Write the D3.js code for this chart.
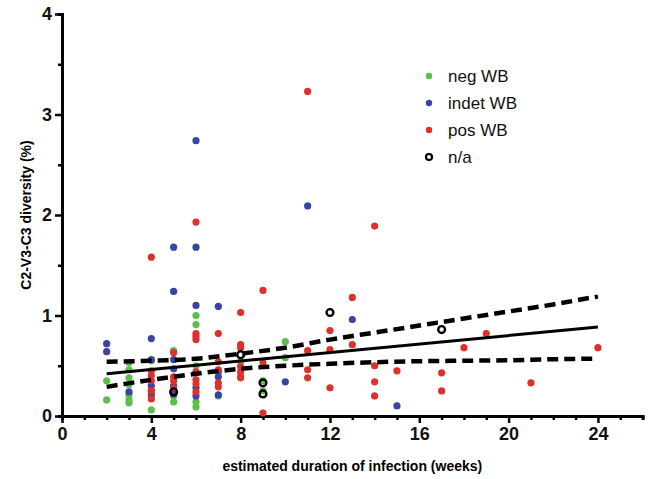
<!DOCTYPE html>
<html>
<head>
<meta charset="utf-8">
<script src="https://cdn.jsdelivr.net/npm/d3@7"></script>
<style>
  body { margin: 0; background: #fff; }
  text { font-family: "Liberation Sans", Arial, sans-serif; }
</style>
</head>
<body>
<div id="chart"></div>
<script>
// Diversity vs estimated duration of infection

const xTicks = [0, 4, 8, 12, 16, 20, 24];
const yTicks = [0, 1, 2, 3, 4];

// [week, diversity]
const negWB = [
  [2, 0.35], [2, 0.16],
  [3, 0.53], [3, 0.46], [3, 0.38], [3, 0.31], [3, 0.21], [3, 0.16], [3, 0.13],
  [4, 0.06], [4, 0.55],
  [5, 0.65], [5, 0.20], [5, 0.14],
  [6, 1.00], [6, 0.91], [6, 0.50], [6, 0.14], [6, 0.09],
  [7, 0.20],
  [8, 0.54], [8, 0.40],
  [9, 0.35], [9, 0.25],
  [10, 0.74], [10, 0.58]
];
const indetWB = [
  [2, 0.72], [2, 0.64],
  [3, 0.24],
  [4, 0.77], [4, 0.56], [4, 0.30], [4, 0.25], [4, 0.21],
  [5, 1.68], [5, 1.24], [5, 0.56], [5, 0.47], [5, 0.30], [5, 0.22],
  [6, 2.74], [6, 1.68], [6, 1.10], [6, 0.43], [6, 0.28], [6, 0.20],
  [7, 1.09], [7, 0.44], [7, 0.39], [7, 0.21],
  [10, 0.34],
  [11, 2.09],
  [13, 0.96],
  [15, 0.10]
];
const posWB = [
  [4, 1.58], [4, 0.45], [4, 0.40], [4, 0.35], [4, 0.25], [4, 0.17],
  [5, 0.63], [5, 0.39], [5, 0.35], [5, 0.28],
  [6, 1.93], [6, 0.82], [6, 0.79], [6, 0.76], [6, 0.44], [6, 0.36], [6, 0.32], [6, 0.24],
  [7, 0.82], [7, 0.54], [7, 0.46], [7, 0.33], [7, 0.29],
  [8, 1.03], [8, 0.71], [8, 0.68], [8, 0.49], [8, 0.44], [8, 0.38],
  [9, 1.25], [9, 0.53], [9, 0.03],
  [11, 3.23], [11, 0.65], [11, 0.46], [11, 0.38],
  [12, 0.85], [12, 0.66], [12, 0.28],
  [13, 1.18], [13, 0.71],
  [14, 1.89], [14, 0.50], [14, 0.34], [14, 0.20],
  [15, 0.45],
  [17, 0.43], [17, 0.25],
  [18, 0.68],
  [19, 0.82],
  [21, 0.33],
  [24, 0.68]
];
const naWB = [
  [5, 0.24], [8, 0.61], [9, 0.33], [9, 0.22], [12, 1.03], [17, 0.86]
];

// regression line and 95% confidence band
const fitX = [2, 24];
const fitY = [0.42, 0.885];
const bandX = [2, 4, 6, 8, 10, 12, 14, 16, 18, 20, 22, 24];
const bandUpper = [0.54, 0.55, 0.57, 0.62, 0.68, 0.76, 0.83, 0.90, 0.97, 1.04, 1.11, 1.19];
const bandLower = [0.29, 0.36, 0.42, 0.47, 0.50, 0.52, 0.535, 0.545, 0.55, 0.555, 0.565, 0.57];

const legendItems = ["neg WB", "indet WB", "pos WB", "n/a"];
const colors = { "neg WB": "#5cbf4c", "indet WB": "#3a43a6", "pos WB": "#e0302b" };

const width = 654, height = 479;
const svg = d3.select("#chart").append("svg")
  .attr("width", width).attr("height", height);

const x = d3.scaleLinear().domain([0, 26]).range([62, 642.6]);
const y = d3.scaleLinear().domain([0, 4]).range([416, 14]);

// ── Axes ──────────────────────────────────────────────
const xAxis = svg.append("g").attr("transform", `translate(0, ${y(0)})`)
  .call(d3.axisBottom(x).tickValues(xTicks).tickSize(7).tickSizeOuter(0).tickPadding(3)
    .tickFormat(d3.format("d")));
xAxis.append("g")
  .call(d3.axisBottom(x).tickValues(d3.range(1, 27).filter(d => d % 4 !== 0)).tickSize(4).tickFormat(""));

const yAxis = svg.append("g").attr("transform", `translate(${x(0)}, 0)`)
  .call(d3.axisLeft(y).tickValues(yTicks).tickSize(7).tickSizeOuter(0).tickPadding(3)
    .tickFormat(d3.format("d")));
yAxis.append("g")
  .call(d3.axisLeft(y).tickValues([0.5, 1.5, 2.5, 3.5]).tickSize(4).tickFormat(""));

svg.selectAll(".domain").attr("stroke", "#000").attr("stroke-width", 3);
svg.selectAll(".tick line").attr("stroke", "#000").attr("stroke-width", 2.5);
svg.selectAll(".tick text")
  .style("font-size", "18px").style("font-weight", "bold").attr("fill", "#111");
xAxis.selectAll(".tick text").attr("dy", "0.8em");

svg.append("text")
  .attr("x", x(13)).attr("y", 471)
  .attr("text-anchor", "middle")
  .style("font-size", "14px").style("font-weight", "bold")
  .text("estimated duration of infection (weeks)");

svg.append("text")
  .attr("transform", `translate(31, ${y(2)}) rotate(-90)`)
  .attr("text-anchor", "middle")
  .style("font-size", "14px").style("font-weight", "bold")
  .text("C2-V3-C3 diversity (%)");

// ── Points ────────────────────────────────────────────
const r = 3.6;
[["neg WB", negWB], ["indet WB", indetWB], ["pos WB", posWB]].forEach(([k, pts]) => {
  svg.append("g").selectAll("circle").data(pts).join("circle")
    .attr("cx", d => x(d[0])).attr("cy", d => y(d[1]))
    .attr("r", r).attr("fill", colors[k]);
});
svg.append("g").selectAll("circle").data(naWB).join("circle")
  .attr("cx", d => x(d[0])).attr("cy", d => y(d[1]))
  .attr("r", 3.4).attr("fill", "none").attr("stroke", "#000").attr("stroke-width", 2.4);

// ── Regression + confidence band ─────────────────────
const line = d3.line().x(d => x(d[0])).y(d => y(d[1])).curve(d3.curveMonotoneX);

svg.append("path")
  .datum(fitX.map((d, i) => [d, fitY[i]]))
  .attr("d", line).attr("fill", "none")
  .attr("stroke", "#000").attr("stroke-width", 3);

[bandUpper, bandLower].forEach(b => {
  svg.append("path")
    .datum(bandX.map((d, i) => [d, b[i]]))
    .attr("d", line).attr("fill", "none")
    .attr("stroke", "#000").attr("stroke-width", 4.5)
    .attr("stroke-dasharray", "11,6");
});

// ── Legend ────────────────────────────────────────────
const legend = svg.append("g").attr("transform", "translate(429, 76)");
legendItems.forEach((k, i) => {
  const row = legend.append("g").attr("transform", `translate(0, ${i * 27})`);
  if (colors[k]) {
    row.append("circle").attr("r", 3.2).attr("fill", colors[k]);
  } else {
    row.append("circle").attr("r", 3).attr("fill", "none")
      .attr("stroke", "#000").attr("stroke-width", 2.2);
  }
  row.append("text").attr("x", 19).attr("dy", "0.35em")
    .style("font-size", "17px").attr("fill", "#111").text(k);
});
</script>
</body>
</html>
